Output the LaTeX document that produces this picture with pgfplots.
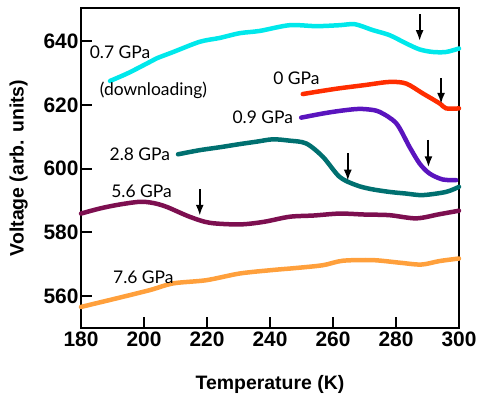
\documentclass[border=0pt]{standalone}
\usepackage{pgfplots}
\pgfplotsset{compat=1.18}
\usepackage{fontspec}
\setmainfont{Liberation Sans}
\newfontfamily\lab{Lato}
\usetikzlibrary{arrows.meta}
\definecolor{ccyan}{RGB}{0,232,235}
\definecolor{cred}{RGB}{255,45,0}
\definecolor{cpurple}{RGB}{90,20,190}
\definecolor{cteal}{RGB}{0,112,112}
\definecolor{cmaroon}{RGB}{125,15,80}
\definecolor{corange}{RGB}{255,160,60}
\pgfplotsset{
  curve/.style={line width=4.5bp, line cap=round, line join=round, smooth, tension=0.5},
  arr/.style={black, line width=2bp, -{Latex[length=11bp,width=8bp]}},
}
\begin{document}
\begin{tikzpicture}
\path[use as bounding box] (-81bp,-71bp) rectangle (396bp,328bp);
\begin{axis}[
  at={(0,0)}, anchor=south west,
  scale only axis, width=378bp, height=320bp,
  xmin=180, xmax=300, ymin=550, ymax=650.4,
  xtick={180,200,...,300}, ytick={560,580,...,640},
  tick align=inside, xtick pos=left, ytick pos=left,
  major tick length=11bp,
  axis line style={line width=1.8bp},
  every tick/.style={line width=1.8bp, black},
  /pgf/number format/assume math mode=true,
  tick label style={font=\fontsize{21}{23}\selectfont\bfseries},
  xticklabel style={yshift=0bp},
  yticklabel style={xshift=1bp},
  xlabel={Temperature (K)}, ylabel={Voltage (arb. units)},
  label style={font=\fontsize{19.5}{22}\selectfont\bfseries},
  xlabel style={at={(axis description cs:0.5,-0.178)}, anchor=center},
  ylabel style={at={(axis description cs:-0.165,0.5)}, anchor=center},
  clip=false,
]
% 0.7 GPa
\addplot[curve, ccyan] coordinates {(189.2,627.5) (195,630) (201.9,633.5) (204,634.6) (209.3,636.6) (217.7,639.8) (224,641) (230.4,642.5) (236.7,643.2) (246.2,645) (254.7,644.7) (262,645) (267,645.3) (272.5,643.5) (277.9,641.9) (283.2,639.3) (287.5,637.4) (291.7,636.6) (295.9,636.6) (300,637.7)};
% 0 GPa
\addplot[curve, cred] coordinates {(250.4,623.4) (256,624.3) (262,625.2) (270,626.2) (277.9,627.2) (283.2,626.7) (288.5,623.6) (293.8,620.5) (295.9,618.9) (300,618.9)};
% 0.9 GPa
\addplot[curve, cpurple] coordinates {(249.9,616) (256.8,617.3) (262,618.1) (267.4,618.7) (271,618.6) (274.8,617.8) (280.1,614.2) (284.3,606.8) (287.5,601.6) (290.6,598.5) (294.8,596.6) (299.1,596.4)};
% 2.8 GPa
\addplot[curve, cteal] coordinates {(210.8,604.5) (217.7,605.8) (224,606.7) (230.4,607.7) (236,608.5) (240.9,609.2) (246,608.8) (251.5,607.9) (256.8,603.7) (262.1,597.4) (267.4,594.8) (272,593.6) (277.9,592.7) (283,592.2) (288.5,591.7) (295.9,592.7) (300,594.3)};
% 5.6 GPa
\addplot[curve, cmaroon] coordinates {(180,585.9) (186,587.5) (192,588.7) (198.7,589.6) (203,589.2) (207.2,588) (214.5,584.9) (220.9,583) (230.4,582.5) (238,583.3) (246.2,584.9) (254,585.3) (262.1,585.9) (270,585.6) (277.9,585.4) (286.4,584.4) (293.8,585.7) (300,586.8)};
% 7.6 GPa
\addplot[curve, corange] coordinates {(180,556.6) (185,557.8) (191.3,559.3) (201.9,561.9) (209.3,564) (219.8,565) (230.4,567.1) (240.9,568.2) (248,568.8) (256.8,569.7) (263.1,571.1) (272.6,571.3) (281.1,570.5) (288,569.9) (293.8,571) (300,571.8)};
% arrows
\addplot[arr] coordinates {(287.5,648.4) (287.5,640.0)};
\addplot[arr] coordinates {(294.3,628.3) (294.3,620.3)};
\addplot[arr] coordinates {(290.3,609.0) (290.3,600.4)};
\addplot[arr] coordinates {(264.7,604.8) (264.7,596.2)};
\addplot[arr] coordinates {(217.7,593.6) (217.7,585.2)};
% labels
\node[font=\lab\fontsize{17.5}{19}\selectfont] at (axis cs:192.4,636.5) {0.7 GPa};
\node[font=\lab\fontsize{17.5}{19}\selectfont] at (axis cs:203,624.6) {(downloading)};
\node[font=\lab\fontsize{17.5}{19}\selectfont] at (axis cs:248.4,628.3) {0 GPa};
\node[font=\lab\fontsize{17.5}{19}\selectfont] at (axis cs:237.7,616.2) {0.9 GPa};
\node[font=\lab\fontsize{17.5}{19}\selectfont] at (axis cs:198.7,604.5) {2.8 GPa};
\node[font=\lab\fontsize{17.5}{19}\selectfont] at (axis cs:199.2,593) {5.6 GPa};
\node[font=\lab\fontsize{17.5}{19}\selectfont] at (axis cs:199.8,565.8) {7.6 GPa};
\end{axis}
\end{tikzpicture}
\end{document}
